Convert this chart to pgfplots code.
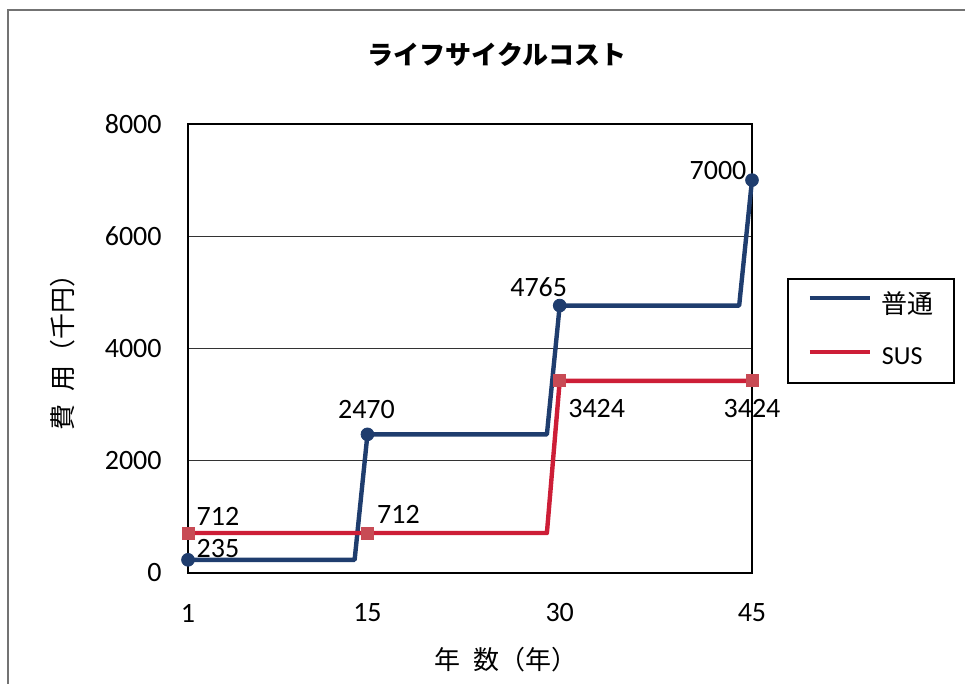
\documentclass[border=0pt]{standalone}
\usepackage{pgfplots}
\pgfplotsset{compat=1.18}
\usepackage{pgfplotstable}
\usepackage{fontspec}
\setmainfont{Carlito}
\newfontfamily\jp{Noto Sans CJK JP}
\definecolor{cblue}{RGB}{31,61,110}
\definecolor{cred}{RGB}{205,30,55}
\definecolor{credm}{RGB}{200,75,85}

\pgfplotstableread{
x y
1 235
14 235
15 2470
29 2470
30 4765
44 4765
45 7000
}\futsuline
\pgfplotstableread{
x y
1 712
29 712
30 3424
45 3424
}\susline
\pgfplotstableread{
x y dx dy
1 235 15 5.5
15 2470 -0.5 12.5
30 4765 -10.5 9
45 7000 -17 5
}\futsupts
\pgfplotstableread{
x y dx dy
1 712 15 8.5
15 712 15.5 9.5
30 3424 18.5 -14
45 3424 0 -14
}\suspts

\begin{document}
\begin{tikzpicture}
\path[use as bounding box] (-94pt,-55.5pt) rectangle (388.5pt,286.5pt);
\draw[black!55, line width=1pt] (-90pt,-70pt) -- (-90pt,281.5pt) -- (400pt,281.5pt);
\begin{axis}[
  at={(0pt,0pt)}, anchor=south west,
  width=282pt, height=224.5pt, scale only axis,
  xmin=1, xmax=45, ymin=0, ymax=8000,
  xtick={1,15,30,45}, ytick={0,2000,4000,6000,8000},
  ymajorgrids, grid style={black!80, line width=0.6pt},
  major tick length=0pt,
  axis line style={black, line width=1pt},
  /pgf/number format/assume math mode=true,
  /pgf/number format/1000 sep={},
  scaled y ticks=false,
  tick label style={font=\fontsize{14}{16}\selectfont, inner sep=0pt},
  yticklabel style={anchor=east, xshift=-13pt},
  xticklabel style={anchor=center, yshift=-20pt},
  legend style={at={(1.062,0.657)}, anchor=north west, draw=black, line width=0.8pt,
    font=\fontsize{13}{15}\selectfont, inner xsep=10pt, inner ysep=0.5pt,
    nodes={inner sep=0pt, minimum height=24pt}, row sep=3pt},
  legend cell align=left,
  legend image code/.code={\draw[#1, mark=none, line width=2pt] (0pt,0.3em) -- (30pt,0.3em); \path (35pt,0.3em);},
  every node near coord/.append style={anchor=center, inner sep=0pt, font=\fontsize{14}{16}\selectfont, text=black, xshift=\dx pt, yshift=\dy pt},
  clip=false,
]
\addplot[cblue, line width=2.2pt, line join=round] table[x=x,y=y] {\futsuline};
\addlegendentry{{\jp 普通}}
\addplot[forget plot, only marks, mark=*, mark size=3.2pt, cblue,
  nodes near coords, point meta=explicit symbolic,
  visualization depends on={\thisrow{dx} \as \dx},
  visualization depends on={\thisrow{dy} \as \dy}]
  table[x=x,y=y,meta=y] {\futsupts};
\addplot[cred, line width=2.2pt, line join=round] table[x=x,y=y] {\susline};
\addlegendentry{SUS}
\addplot[forget plot, only marks, mark=square*, mark size=3pt, credm,
  nodes near coords, point meta=explicit symbolic,
  visualization depends on={\thisrow{dx} \as \dx},
  visualization depends on={\thisrow{dy} \as \dy}]
  table[x=x,y=y,meta=y] {\suspts};
\end{axis}
\node[font=\jp\bfseries\fontsize{13}{15}\selectfont] at (154.5pt,259pt) {ライフサイクルコスト};
\node[font=\jp\fontsize{13}{15}\selectfont] at (159pt,-43.5pt) {年\hspace{0.5em}数（年）};
\node[font=\jp\fontsize{13}{15}\selectfont, rotate=90] at (-62.5pt,113.5pt) {費\hspace{0.5em}用（千円）};
\end{tikzpicture}
\end{document}
